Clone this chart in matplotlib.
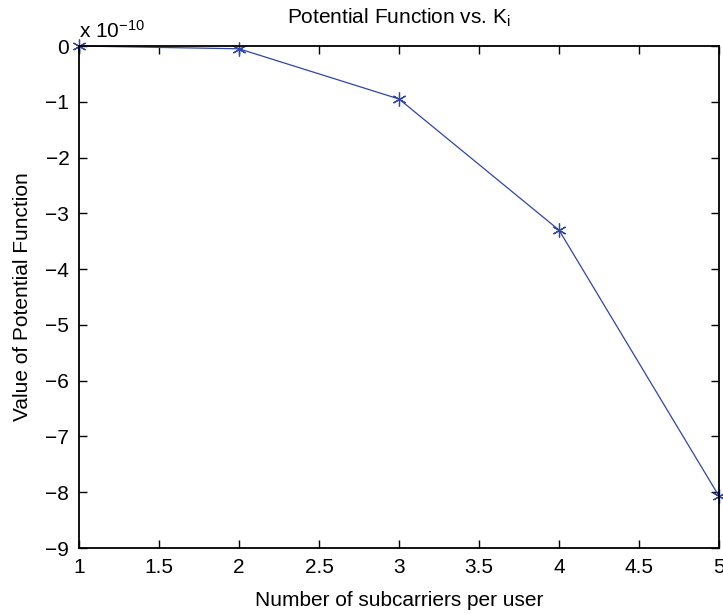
import matplotlib
matplotlib.use("Agg")
import matplotlib.pyplot as plt

# data (values in units of 1e-10)
subcarriers = [1, 2, 3, 4, 5]
potential = [0.0, -0.05, -0.95, -3.3, -8.07]
x_ticks = [1, 1.5, 2, 2.5, 3, 3.5, 4, 4.5, 5]
y_ticks = [0, -1, -2, -3, -4, -5, -6, -7, -8, -9]

plt.rcParams['font.family'] = ['Liberation Sans', 'DejaVu Sans']
plt.rcParams['mathtext.fontset'] = 'custom'
plt.rcParams['mathtext.rm'] = 'Liberation Sans'
plt.rcParams['mathtext.it'] = 'Liberation Sans'

fig = plt.figure(figsize=(7.23, 6.15), dpi=100)
ax = fig.add_axes([79/723, 1 - 548/615, (719 - 79)/723, (548 - 46)/615])

ax.plot(subcarriers, potential, color='#2f45a8', lw=0.9,
        marker=(6, 2, 0), ms=10, mew=0.9, clip_on=False)

ax.set_xlim(1, 5)
ax.set_ylim(-9, 0)
ax.set_xticks(x_ticks)
ax.set_xticklabels(['1', '1.5', '2', '2.5', '3', '3.5', '4', '4.5', '5'])
ax.set_yticks(y_ticks)
ax.set_yticklabels([str(v).replace('-', '\u2212') for v in y_ticks])

ax.tick_params(direction='in', length=6, width=1, top=True, right=True,
               labelsize=15, pad=7, colors='black')
for s in ax.spines.values():
    s.set_linewidth(1.3)

ax.set_title('Potential Function vs. K$_{\\mathrm{i}}$', fontsize=15, pad=16)
ax.set_xlabel('Number of subcarriers per user', fontsize=15, labelpad=10)
ax.set_ylabel('Value of Potential Function', fontsize=15, labelpad=10)
ax.text(0.0, 1.016, 'x 10$^{\\mathrm{\u221210}}$', transform=ax.transAxes,
        fontsize=15, ha='left', va='baseline')

fig.savefig('out.png', dpi=100)
